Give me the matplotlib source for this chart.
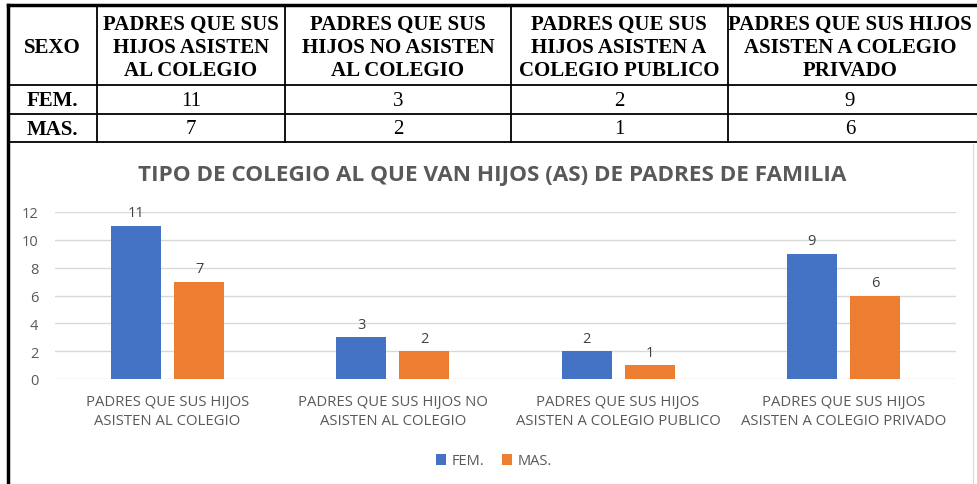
import numpy as np
import matplotlib.pyplot as plt

# data
categories = ["PADRES QUE SUS HIJOS\nASISTEN AL COLEGIO",
              "PADRES QUE SUS HIJOS NO\nASISTEN AL COLEGIO",
              "PADRES QUE SUS HIJOS\nASISTEN A COLEGIO PUBLICO",
              "PADRES QUE SUS HIJOS\nASISTEN A COLEGIO PRIVADO"]
table_headers = ["SEXO",
                 "PADRES QUE SUS\nHIJOS ASISTEN\nAL COLEGIO",
                 "PADRES QUE SUS\nHIJOS NO ASISTEN\nAL COLEGIO",
                 "PADRES QUE SUS\nHIJOS ASISTEN A\nCOLEGIO PUBLICO",
                 "PADRES QUE SUS HIJOS\nASISTEN A COLEGIO\nPRIVADO"]
series_names = ["FEM.", "MAS."]
fem = [11, 3, 2, 9]
mas = [7, 2, 1, 6]
yticks = [0, 2, 4, 6, 8, 10, 12]

W, H = 977, 485
fig = plt.figure(figsize=(W / 100, H / 100), dpi=100)

# background axes in pixel coordinates for the table
bg = fig.add_axes([0, 0, 1, 1])
bg.set_xlim(0, W)
bg.set_ylim(H, 0)
bg.axis("off")

col_x = [8, 97, 285, 511, 728, 985]
col_c = [52, 191, 398, 619, 850]
row_y = [6, 86, 115, 143]
serif = "Liberation Serif"

# table lines
for x in col_x[1:-1]:
    bg.plot([x, x], [row_y[0], row_y[-1]], color="black", lw=1.3)
for y in row_y[1:]:
    bg.plot([col_x[0], W], [y, y], color="black", lw=1.3)
bg.plot([col_x[0], W], [row_y[0], row_y[0]], color="black", lw=2.5)
bg.plot([col_x[0], col_x[0]], [row_y[0], H], color="black", lw=2.5)
bg.plot([973, 973], [row_y[-1] + 2, H], color="#d9d9d9", lw=0.8)

# header text
for i, h in enumerate(table_headers):
    bg.text(col_c[i], (row_y[0] + row_y[1]) / 2 + 2, h, ha="center", va="center",
            family=serif, weight="bold", fontsize=15, linespacing=1.2,
            color="black")

for r, (name, vals) in enumerate(zip(series_names, [fem, mas])):
    cy = (row_y[r + 1] + row_y[r + 2]) / 2 + 1
    bg.text(col_c[0], cy, name, ha="center", va="center",
            family=serif, weight="bold", fontsize=15)
    for i, v in enumerate(vals):
        bg.text(col_c[i + 1], cy, str(v), ha="center", va="center",
                family=serif, fontsize=15)

# chart
bg.text(492, 176, "TIPO DE COLEGIO AL QUE VAN HIJOS (AS) DE PADRES DE FAMILIA",
        ha="center", va="center", family="Open Sans", weight="bold",
        fontsize=16.2, color="#595959")

left, right, top, bottom = 55, 956, 213, 380
ax = fig.add_axes([left / W, 1 - bottom / H, (right - left) / W, (bottom - top) / H])
ax.set_xlim(-0.5, 3.5)
ax.set_ylim(0, 12)
x = np.arange(len(categories))
bw = 0.222
gap = 0.058
b1 = ax.bar(x - (bw + gap) / 2, fem, bw, color="#4472C4", label=series_names[0], zorder=3)
b2 = ax.bar(x + (bw + gap) / 2, mas, bw, color="#ED7D31", label=series_names[1], zorder=3)
for bars in (b1, b2):
    ax.bar_label(bars, padding=4, fontsize=10.5, color="#404040", family="Open Sans")

ax.set_yticks(yticks)
ax.yaxis.grid(True, color="#d9d9d9", lw=1)
ax.set_axisbelow(True)
for s in ax.spines.values():
    s.set_visible(False)
ax.tick_params(axis="both", length=0, colors="#595959")
ax.tick_params(axis="y", pad=12, labelsize=10.5)
ax.set_xticks(x)
ax.set_xticklabels(categories, fontsize=10.7, family="Open Sans", color="#595959",
                   linespacing=1.35)
ax.tick_params(axis="x", pad=11)
for lab in ax.get_yticklabels():
    lab.set_family("Open Sans")

fig.legend(handles=[b1, b2], labels=series_names, loc="center",
           bbox_to_anchor=(494 / W, 1 - 462 / H), ncol=2, frameon=False,
           prop={"family": "Open Sans", "size": 10.5}, handlelength=0.7,
           handleheight=0.7, handletextpad=0.4, columnspacing=1.2,
           labelcolor="#595959")

fig.savefig("out.png", dpi=100)
